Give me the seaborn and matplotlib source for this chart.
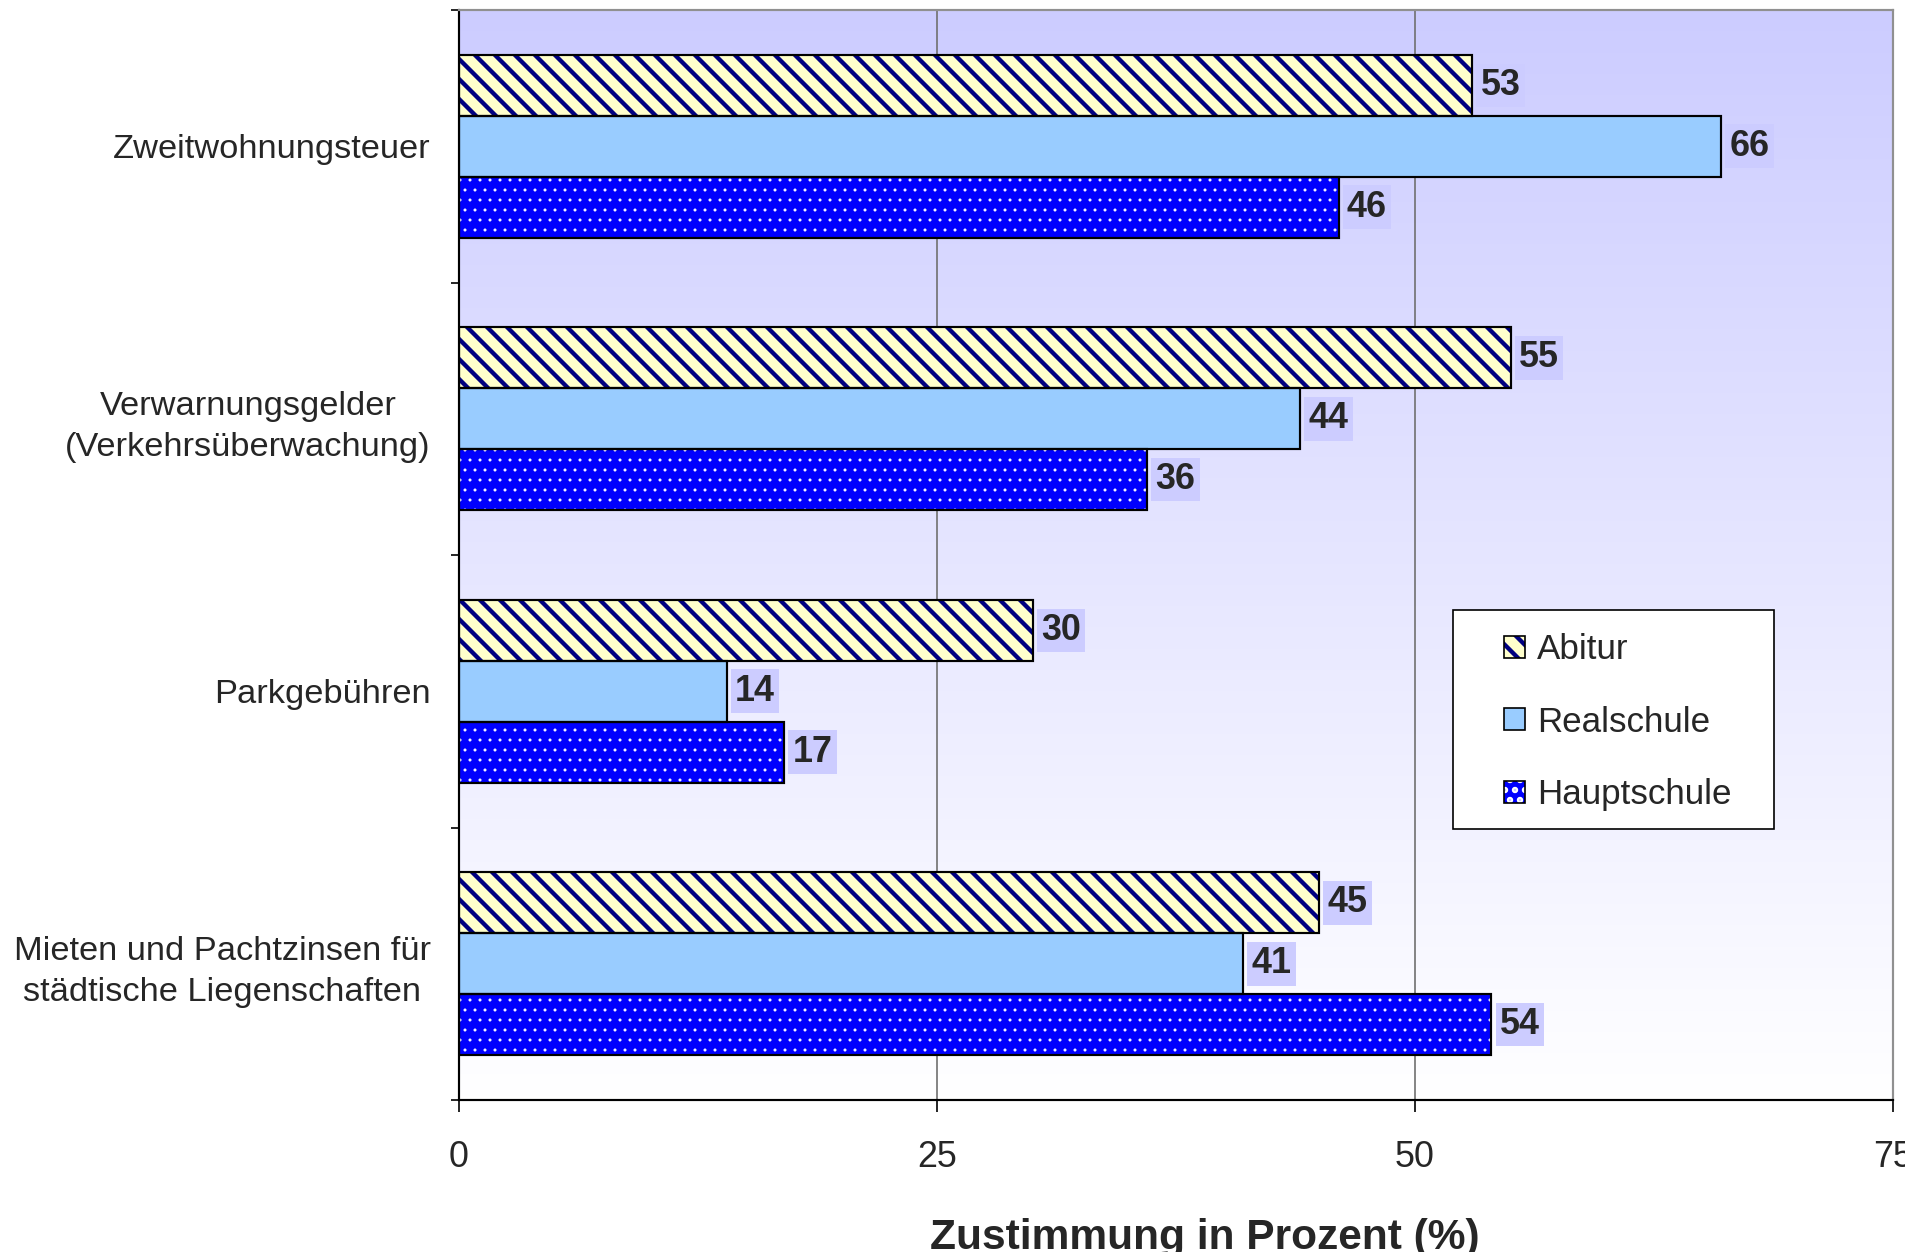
import matplotlib
matplotlib.use("Agg")
import matplotlib.pyplot as plt
import seaborn as sns
import numpy as np
import pandas as pd
from matplotlib.patches import Patch, Rectangle
from matplotlib.colors import LinearSegmentedColormap

# data
categories = [
    "Zweitwohnungsteuer",
    "Verwarnungsgelder\n(Verkehrsüberwachung)",
    "Parkgebühren",
    "Mieten und Pachtzinsen für\nstädtische Liegenschaften",
]
groups = ["Abitur", "Realschule", "Hauptschule"]
abitur = [53, 55, 30, 45]
realschule = [66, 44, 14, 41]
hauptschule = [46, 36, 17, 54]
x_ticks = [0, 25, 50, 75]
x_label = "Zustimmung in Prozent (%)"

# styling
fill_colors = {"Abitur": "#FFFFCC", "Realschule": "#99CCFF", "Hauptschule": "#0000FF"}
hatch_colors = {"Abitur": "#000080", "Realschule": "#99CCFF", "Hauptschule": "#FFFFFF"}
hatches = {"Abitur": "\\\\", "Realschule": "", "Hauptschule": ".."}
hatch_lw = {"Abitur": 2.6, "Realschule": 0.5, "Hauptschule": 0.6}

df = pd.DataFrame({
    "category": categories * 3,
    "group": [g for g in groups for _ in categories],
    "value": abitur + realschule + hauptschule,
})

sns.set_style("white")
plt.rcParams["font.family"] = ["Liberation Sans", "DejaVu Sans"]
plt.rcParams["hatch.linewidth"] = 2.6

DPI = 120
fig = plt.figure(figsize=(1905 / DPI, 1252 / DPI), dpi=DPI)
pos = [459 / 1905, 1 - 1100 / 1252, (1893 - 459) / 1905, (1100 - 10) / 1252]

# gradient plot area background
bg_ax = fig.add_axes(pos, zorder=0)
grad_cmap = LinearSegmentedColormap.from_list("bg", ["#CCCCFF", "#FFFFFF"])
bg_ax.imshow(np.linspace(0, 1, 256).reshape(-1, 1), cmap=grad_cmap, aspect="auto",
             extent=[0, 1, 0, 1])
bg_ax.axis("off")

ax = fig.add_axes(pos, zorder=1)
ax.patch.set_alpha(0)

sns.barplot(data=df, y="category", x="value", hue="group", order=categories,
            hue_order=groups, palette=fill_colors, orient="h", width=0.67,
            linewidth=0, saturation=1, legend=False, ax=ax, zorder=2)

for group, container in zip(groups, ax.containers):
    for bar in container:
        bar.set_hatch(hatches[group])
        bar.set_edgecolor(hatch_colors[group])
        bar.set_linewidth(0)
        if hasattr(bar, "set_hatch_linewidth"):
            bar.set_hatch_linewidth(hatch_lw[group])
        outline = Rectangle(bar.get_xy(), bar.get_width(), bar.get_height(),
                            fill=False, edgecolor="black", linewidth=1.3, zorder=3)
        ax.add_patch(outline)
    ax.bar_label(container, padding=5, fontsize=21.5, fontweight="bold",
                 bbox=dict(boxstyle="square,pad=0.12", fc="#CCCCFF", ec="none"),
                 zorder=4)

ax.set_xlim(0, 75)
ax.set_ylim(3.5, -0.5)
ax.set_xticks(x_ticks)
ax.set_xticklabels([str(t) for t in x_ticks], fontsize=21.5)
ax.set_yticks(range(len(categories)))
ax.set_yticklabels(categories, fontsize=20.6, multialignment="center")
ax.set_yticks(np.arange(-0.5, len(categories), 1.0), minor=True)
ax.tick_params(axis="y", which="major", length=0, pad=17)
ax.tick_params(axis="y", which="minor", length=5, width=1, color="black", direction="out", left=True)
ax.tick_params(axis="x", length=7, width=1, color="black", direction="out", pad=17, bottom=True)
ax.set_xlabel("")
ax.set_ylabel("")
for lab in ax.yaxis.get_majorticklabels():
    lab.set_linespacing(1.4)
    lab.set_multialignment("center")

ax.set_axisbelow(True)
ax.xaxis.grid(True, color="#707070", linewidth=1)
ax.yaxis.grid(False)

for side in ["left", "bottom"]:
    ax.spines[side].set_color("black")
    ax.spines[side].set_linewidth(1.3)
for side in ["top", "right"]:
    ax.spines[side].set_color("#909090")
    ax.spines[side].set_linewidth(1.3)

# legend with its own frame
ax.add_patch(Rectangle((0.693, 0.2486), 0.224, 0.2009, transform=ax.transAxes,
                       facecolor="white", edgecolor="black", linewidth=1, zorder=5))
handles = []
for group in groups:
    hp = Patch(facecolor=fill_colors[group], edgecolor=hatch_colors[group],
               hatch=hatches[group], linewidth=0)
    if hasattr(hp, "set_hatch_linewidth"):
        hp.set_hatch_linewidth(hatch_lw[group])
    op = Patch(facecolor="none", edgecolor="black", linewidth=1)
    handles.append((hp, op))
leg = ax.legend(handles, groups, loc="center left", bbox_to_anchor=(0.7287, 0.3467),
                frameon=False, fontsize=21, borderpad=0, borderaxespad=0,
                handlelength=0.6, handleheight=0.6, handletextpad=0.34,
                labelspacing=1.13)
leg.set_zorder(6)

fig.text(1205 / 1905, 0.002, x_label, ha="center", va="baseline",
         fontsize=25.5, fontweight="bold")

fig.savefig("out.png", dpi=DPI)
